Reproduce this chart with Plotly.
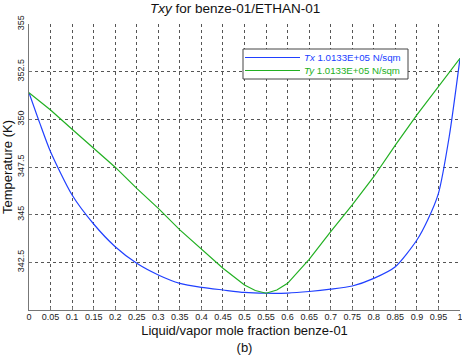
import plotly.graph_objects as go

x_liq = [0, 0.025, 0.05, 0.1, 0.15, 0.2, 0.25, 0.3, 0.35, 0.4, 0.45, 0.5, 0.55,
         0.6, 0.65, 0.7, 0.75, 0.8, 0.85, 0.9, 0.925, 0.95, 0.975, 1.0]
t_x = [351.40, 349.80, 348.30, 346.03, 344.51, 343.32, 342.45, 341.84, 341.40, 341.19,
       341.05, 340.92, 340.88, 340.89, 340.97, 341.09, 341.26, 341.66, 342.27, 343.67,
       344.72, 346.12, 349.10, 353.20]

x_vap = [0, 0.05, 0.1, 0.15, 0.2, 0.25, 0.3, 0.35, 0.4, 0.45, 0.5, 0.525, 0.55,
         0.575, 0.6, 0.65, 0.7, 0.75, 0.8, 0.85, 0.9, 0.95, 1.0]
t_y = [351.40, 350.49, 349.48, 348.48, 347.49, 346.38, 345.33, 344.20, 343.19, 342.19,
       341.31, 341.02, 340.88, 341.05, 341.40, 342.66, 344.11, 345.51, 346.99, 348.65,
       350.23, 351.71, 353.20]

x_ticks = [round(i * 0.05, 2) for i in range(21)]
x_labels = ["0"] + [("%g" % v) for v in x_ticks[1:-1]] + ["1"]
y_ticks = [342.5, 345, 347.5, 350, 352.5, 355]
y_labels = ["342.5", "345", "347.5", "350", "352.5", "355"]

series_names = ["<i>Tx</i> 1.0133E+05 N/sqm", "<i>Ty</i> 1.0133E+05 N/sqm"]

blue = "#2040ff"
green = "#22b022"
font = "Liberation Sans, Arial, Helvetica, sans-serif"

fig = go.Figure()
fig.add_trace(go.Scatter(x=x_liq, y=t_x, mode="lines",
                         line=dict(color=blue, width=1.2, shape="spline", smoothing=0.7),
                         name=series_names[0]))
fig.add_trace(go.Scatter(x=x_vap, y=t_y, mode="lines",
                         line=dict(color=green, width=1.2), name=series_names[1]))

# Legend box (drawn manually to match the compact MATLAB-style legend)
W, H, L, B = 431.0, 286.0, 29.0, 310.0
def px(x): return (x - L) / W
def py(y): return (B - y) / H

shapes = [dict(type="rect", xref="paper", yref="paper",
               x0=px(243), x1=px(408), y0=py(79), y1=py(49),
               line=dict(color="#444", width=1), fillcolor="white", layer="above")]
annotations = []
for i, (col, ypix) in enumerate([(blue, 57.5), (green, 70.5)]):
    shapes.append(dict(type="line", xref="paper", yref="paper",
                       x0=px(245), x1=px(300), y0=py(ypix), y1=py(ypix),
                       line=dict(color=col, width=1.2), layer="above"))
    annotations.append(dict(xref="paper", yref="paper", x=px(302), y=py(ypix),
                            xanchor="left", yanchor="middle", showarrow=False,
                            text=series_names[i], font=dict(size=9.7, color=col)))

fig.update_layout(
    width=462, height=355,
    margin=dict(l=29, r=2, t=24, b=45, autoexpand=False),
    paper_bgcolor="white", plot_bgcolor="white",
    font=dict(family=font, size=10, color="#222"),
    title=dict(text="<i>Txy</i> for benze-01/ETHAN-01", x=0.509, xanchor="center",
               y=0.977, yanchor="middle", font=dict(size=13.5, color="#111")),
    showlegend=False,
    shapes=shapes, annotations=annotations,
)
fig.update_xaxes(
    range=[0, 1], tickvals=x_ticks, ticktext=x_labels, automargin=False,
    showgrid=True, gridcolor="#555", griddash="dot", gridwidth=1,
    showline=True, linecolor="#777", linewidth=1, mirror=False,
    ticks="inside", ticklen=3, tickcolor="#777", ticklabeloverflow="allow",
    ticklabelstandoff=-2,
    tickfont=dict(size=9), zeroline=False,
    title=dict(text="Liquid/vapor mole fraction benze-01<br>(b)",
               font=dict(size=13, color="#111"), standoff=8),
)
fig.update_yaxes(
    range=[340, 355], tickvals=y_ticks, ticktext=y_labels, tickangle=-90,
    automargin=False,
    showgrid=True, gridcolor="#555", griddash="dot", gridwidth=1,
    showline=True, linecolor="#777", linewidth=1, mirror=False,
    ticks="inside", ticklen=3, tickcolor="#777",
    tickfont=dict(size=9), zeroline=False,
    title=dict(text="Temperature (K)", font=dict(size=13, color="#111"), standoff=2),
)

fig.write_html("out.html", config={"displayModeBar": False},
               post_script="document.body.style.margin='0';document.body.style.padding='0';")
